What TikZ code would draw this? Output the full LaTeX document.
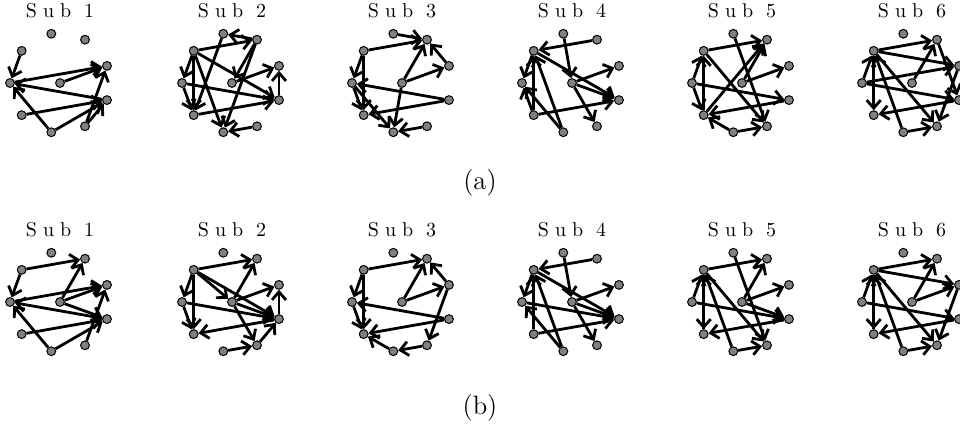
\documentclass[tikz,border=0pt]{standalone}
\usepackage{fontspec}
\usepackage{tikz}
\usetikzlibrary{arrows.meta}
\newfontfamily\subfont{lmroman10-regular.otf}[LetterSpace=30]

% Nine vertices on a ring round (#2,#3) and one in its middle.
\newcommand{\placesub}[3]{%
	\node[vertex] (#1-c) at (#2,#3) {};
	\foreach \k in {0,...,8}
		\node[vertex] (#1-\k) at ({#2+50*cos(180-40*\k)},{#3+50*sin(180-40*\k)}) {};
}

\begin{document}
\begin{tikzpicture}[x=0.5pt,y=0.5pt]
	% `vertex' is used for the grey dots, `link' for the arrows.
	\tikzstyle{vertex} = [draw,fill=gray,shape=circle,minimum size=4.4pt,inner sep=0pt,line width=0.5pt]
	\tikzstyle{link} = [line width=1.4pt,-{Straight Barb[length=4pt,width=7pt]}]
	\tikzstyle{title} = [anchor=base,inner sep=0pt,font=\subfont\fontsize{10}{12}\selectfont]
	\tikzstyle{caption} = [anchor=base,inner sep=0pt,font=\fontsize{13.3}{16}\selectfont]
	\clip (0,0) rectangle (960,429);
	%
	% First row.
	\foreach \i/\x in {1/60,2/232,3/402,4/572,5/742,6/912} {
		\placesub{a\i}{\x}{346}
		\node[title] (ta\i) at (\x,411) {Sub \i};
	}
	\foreach \s/\t in {1/0,0/4,c/4,5/0,7/0,8/5,7/5,6/4,6/5}
		\draw[link] (a1-\s) -- (a1-\t);
	\foreach \s/\t in {3/2,1/3,1/0,1/8,1/7,2/8,3/7,3/c,c/4,1/5,0/5,8/5,5/4,6/7,0/8}
		\draw[link] (a2-\s) -- (a2-\t);
	\foreach \s/\t in {2/3,1/3,c/3,4/3,1/0,1/8,c/4,5/0,5/8,c/7,0/8,0/7,6/7}
		\draw[link] (a3-\s) -- (a3-\t);
	\foreach \s/\t in {3/1,2/c,c/6,1/5,c/4,c/5,1/0,8/1,7/1,8/0,8/5,7/0}
		\draw[link] (a4-\s) -- (a4-\t);
	\foreach \s/\t in {1/3,2/6,8/3,c/3,0/1,0/8,1/6,0/5,5/8,7/8,7/6,c/4,8/1}
		\draw[link] (a5-\s) -- (a5-\t);
	\foreach \s/\t in {1/3,1/4,c/3,3/5,0/1,1/8,0/4,0/5,7/1,5/8,7/6,1/6,4/6}
		\draw[link] (a6-\s) -- (a6-\t);
	\node[caption] (capa) at (480,239) {(a)};
	%
	% Second row.
	\foreach \i/\x in {1/60,2/232,3/402,4/572,5/742,6/912} {
		\placesub{b\i}{\x}{127}
		\node[title] (tb\i) at (\x,192) {Sub \i};
	}
	\foreach \s/\t in {1/3,1/0,c/3,0/4,c/4,5/0,c/5,7/0,8/5,7/5,6/4}
		\draw[link] (b1-\s) -- (b1-\t);
	\foreach \s/\t in {1/3,c/3,1/c,1/0,1/8,c/4,5/4,c/5,1/5,0/5,5/8,c/6,7/6,6/5,0/8}
		\draw[link] (b2-\s) -- (b2-\t);
	\foreach \s/\t in {1/3,c/3,c/4,4/3,1/0,1/8,5/0,0/8,5/8,6/7,4/6,7/8}
		\draw[link] (b3-\s) -- (b3-\t);
	\foreach \s/\t in {3/1,2/c,c/4,1/5,c/5,0/5,1/0,8/1,7/1,c/6,8/5,7/0}
		\draw[link] (b4-\s) -- (b4-\t);
	\foreach \s/\t in {1/3,c/3,2/6,0/1,8/1,1/8,7/1,1/6,5/8,c/4,c/5,0/5,7/6}
		\draw[link] (b5-\s) -- (b5-\t);
	\foreach \s/\t in {1/3,1/4,c/3,c/4,0/1,1/8,8/1,0/5,1/6,7/1,5/8,7/6,4/6}
		\draw[link] (b6-\s) -- (b6-\t);
	\node[caption] (capb) at (480,14) {(b)};
%
\end{tikzpicture}
\end{document}
